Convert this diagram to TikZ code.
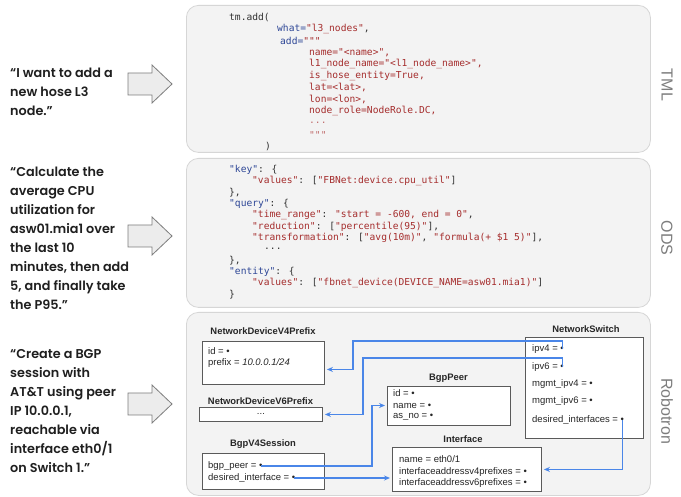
\documentclass[tikz,border=0pt]{standalone}
\usepackage{fontspec}
\setmainfont{Liberation Sans}
\newfontfamily\quotefont{Poppins SemiBold}
\newfontfamily\codefont{DejaVu Sans Mono}
\newfontfamily\labelfont{Liberation Sans}
\usetikzlibrary{arrows.meta,calc}
\definecolor{panelfill}{RGB}{243,243,243}
\definecolor{panelborder}{RGB}{214,214,214}
\definecolor{labelgray}{RGB}{125,125,125}
\definecolor{arrowfill}{RGB}{236,236,236}
\definecolor{arrowgray}{RGB}{125,125,125}
\definecolor{kb}{RGB}{45,70,150}
\definecolor{sr}{RGB}{165,45,45}
\definecolor{pc}{RGB}{50,50,50}
\definecolor{boxgray}{RGB}{90,90,90}
\definecolor{linkblue}{RGB}{74,134,232}
\tikzset{
  panel/.style={draw=panelborder, fill=panelfill, rounded corners=12, line width=0.8, anchor=north west, inner sep=0},
  panellabel/.style={font=\labelfont\fontsize{16}{18}\selectfont, text=labelgray, rotate=-90},
  quotetext/.style={anchor=west, align=left, inner sep=0, text=black!88, font=\quotefont\fontsize{12.8}{19}\selectfont},
  bigarrow/.style={draw=arrowgray, fill=arrowfill, line width=0.8},
  blockarr/.pic={\draw[bigarrow] (0,-11) -- (24,-11) -- (24,-19) -- (44,0) -- (24,19) -- (24,11) -- (0,11) -- cycle;},
  code/.style={anchor=west, inner sep=0, text=pc, font=\codefont\fontsize{9.6}{11}\selectfont},
  cls/.style={draw=boxgray, fill=white, line width=0.9, anchor=north west, inner sep=0},
  clstitle/.style={font=\bfseries\fontsize{9.4}{11}\selectfont, text=black!85},
  field/.style={anchor=west, inner sep=0, text=black!85, font=\fontsize{9.5}{11}\selectfont},
  link/.style={draw=linkblue, line width=1.2, -{Stealth[length=6pt,width=5pt]}}
}
\begin{document}
\begin{tikzpicture}[x=1pt,y=-1pt]
\useasboundingbox (0,0) rectangle (681,497);
\fill[white] (0,0) rectangle (681,497);

% panels
\node[panel, minimum width=464, minimum height=147] (tmlpanel) at (186,5) {};
\node[panel, minimum width=464, minimum height=149] (odspanel) at (186,158) {};
\node[panel, minimum width=464, minimum height=183] (robpanel) at (186,312) {};
\node[panellabel] (tmllabel) at (667,85) {TML};
\node[panellabel] (odslabel) at (667,238) {ODS};
\node[panellabel] (roblabel) at (667,411) {Robotron};

% left requests
\node[quotetext] (q1) at (10,92) {“I want to add a\\new hose L3\\node.”};
\node[quotetext] (q2) at (10,238) {“Calculate the\\average CPU\\utilization for\\asw01.mia1 over\\the last 10\\minutes, then add\\5, and finally take\\the P95.”};
\node[quotetext] (q3) at (10,411) {“Create a BGP\\session with\\AT\&T using peer\\IP 10.0.0.1,\\reachable via\\interface eth0/1\\on Switch 1.”};
\pic at (128,84) {blockarr};
\pic at (128,236) {blockarr};
\pic at (128,404) {blockarr};

% TML code
\node[code] (t1) at (229,17) {tm.add(};
\node[code] (t2) at (277,28.8) {\textcolor{kb}{what=}\textcolor{sr}{"l3\_nodes"},};
\node[code] (t3) at (280,40.6) {\textcolor{kb}{add=}\textcolor{sr}{"""}};
\node[code, text=sr] (t4) at (309,52.4) {name="<name>",};
\node[code, text=sr] (t5) at (309,64.2) {l1\_node\_name="<l1\_node\_name>",};
\node[code, text=sr] (t6) at (309,76) {is\_hose\_entity=True,};
\node[code, text=sr] (t7) at (309,87.8) {lat=<lat>,};
\node[code, text=sr] (t8) at (309,99.6) {lon=<lon>,};
\node[code, text=sr] (t9) at (309,111.4) {node\_role=NodeRole.DC,};
\node[code, text=sr!70] (t10) at (309,123.2) {...};
\node[code, text=sr!70] (t11) at (309,135) {"""};
\node[code] (t12) at (265,146.8) {)};

% ODS code
\node[code] (o1) at (229,170) {\textcolor{kb}{"key"}: \{};
\node[code] (o2) at (252,181.3) {\textcolor{sr}{"values"}: [\textcolor{sr}{"FBNet:device.cpu\_util"}]};
\node[code] (o3) at (229,192.6) {\},};
\node[code] (o4) at (229,203.9) {\textcolor{kb}{"query"}: \{};
\node[code] (o5) at (252,215.2) {\textcolor{sr}{"time\_range"}: \textcolor{sr}{"start = -600, end = 0"},};
\node[code] (o6) at (252,226.5) {\textcolor{sr}{"reduction"}: [\textcolor{sr}{"percentile(95)"}],};
\node[code] (o7) at (252,237.8) {\textcolor{sr}{"transformation"}: [\textcolor{sr}{"avg(10m)"}, \textcolor{sr}{"formula(+ \$1 5)"}],};
\node[code] (o8) at (264,249.1) {...};
\node[code] (o9) at (229,260.4) {\},};
\node[code] (o10) at (229,271.7) {\textcolor{kb}{"entity"}: \{};
\node[code] (o11) at (252,283) {\textcolor{sr}{"values"}: [\textcolor{sr}{"fbnet\_device(DEVICE\_NAME=asw01.mia1)"}]};
\node[code] (o12) at (229,294.3) {\}};

% Robotron classes
\node[clstitle] (v4title) at (263,331) {NetworkDeviceV4Prefix};
\node[cls, minimum width=122, minimum height=43] (v4box) at (202,341) {};
\node[field] (v4id) at (208,351) {id = •};
\node[field] (v4pre) at (208,363) {prefix = \textit{10.0.0.1/24}};

\node[clstitle] (v6title) at (260.5,401) {NetworkDeviceV6Prefix};
\node[cls, minimum width=123, minimum height=14] (v6box) at (199,407) {};
\node[field, anchor=center] (v6dots) at (v6box.center) {...};

\node[clstitle] (sesstitle) at (263,444) {BgpV4Session};
\node[cls, minimum width=122, minimum height=36] (sessbox) at (202,453) {};
\node[field] (sesspeer) at (208,466) {bgp\_peer = •};
\node[field] (sessif) at (208,478) {desired\_interface = •};

\node[clstitle] (peertitle) at (448.5,378) {BgpPeer};
\node[cls, minimum width=123, minimum height=39] (peerbox) at (387,386) {};
\node[field] (peerid) at (393,393.5) {id = •};
\node[field] (peername) at (393,405.5) {name = •};
\node[field] (peeras) at (393,417) {as\_no = •};

\node[clstitle] (iftitle) at (463,439) {Interface};
\node[cls, minimum width=149, minimum height=44] (ifbox) at (392,447) {};
\node[field] (ifname) at (399,459) {name = eth0/1};
\node[field] (ifv4) at (399,472) {interfaceaddressv4prefixes = •};
\node[field] (ifv6) at (399,483) {interfaceaddressv6prefixes = •};

\node[clstitle] (swtitle) at (586,329) {NetworkSwitch};
\node[cls, minimum width=118, minimum height=101] (swbox) at (525,337) {};
\node[field] (swipv4) at (532,349) {ipv4 = •};
\node[field] (swipv6) at (532,367) {ipv6 = •};
\node[field] (swm4) at (532,384) {mgmt\_ipv4 = •};
\node[field] (swm6) at (532,401) {mgmt\_ipv6 = •};
\node[field] (swdes) at (532,420) {desired\_interfaces = •};

% connector end points
\coordinate (b1) at ([xshift=-1.7pt]swipv4.east);
\coordinate (b2) at ([xshift=-1.7pt]swipv6.east);
\coordinate (b3) at ([xshift=-1.7pt]sesspeer.east);
\coordinate (b4) at ([xshift=-1.7pt]sessif.east);
\coordinate (b5) at ([xshift=-1.7pt]swdes.east);
\coordinate (v4in) at ([xshift=2pt,yshift=-6.5pt]v4box.east);
\coordinate (v6in) at ([xshift=2pt]v6box.east);
\path (peerbox.west |- peername.west) ++(-2,0) coordinate (peerin);
\path (ifbox.west |- sessif.west) ++(-2,0) coordinate (ifin);
\coordinate (ifin2) at ([xshift=2pt]ifbox.east);

% connectors
\draw[link] (b1) |- (353,341) |- (v4in);
\draw[link] (b2) |- (363,358) |- (v6in);
\draw[link] (b3) -| ($(peerin)+(-13,0)$) -- (peerin);
\draw[link] (b4) -- (ifin);
\draw[link] (b5) |- (ifin2);
\end{tikzpicture}
\end{document}
